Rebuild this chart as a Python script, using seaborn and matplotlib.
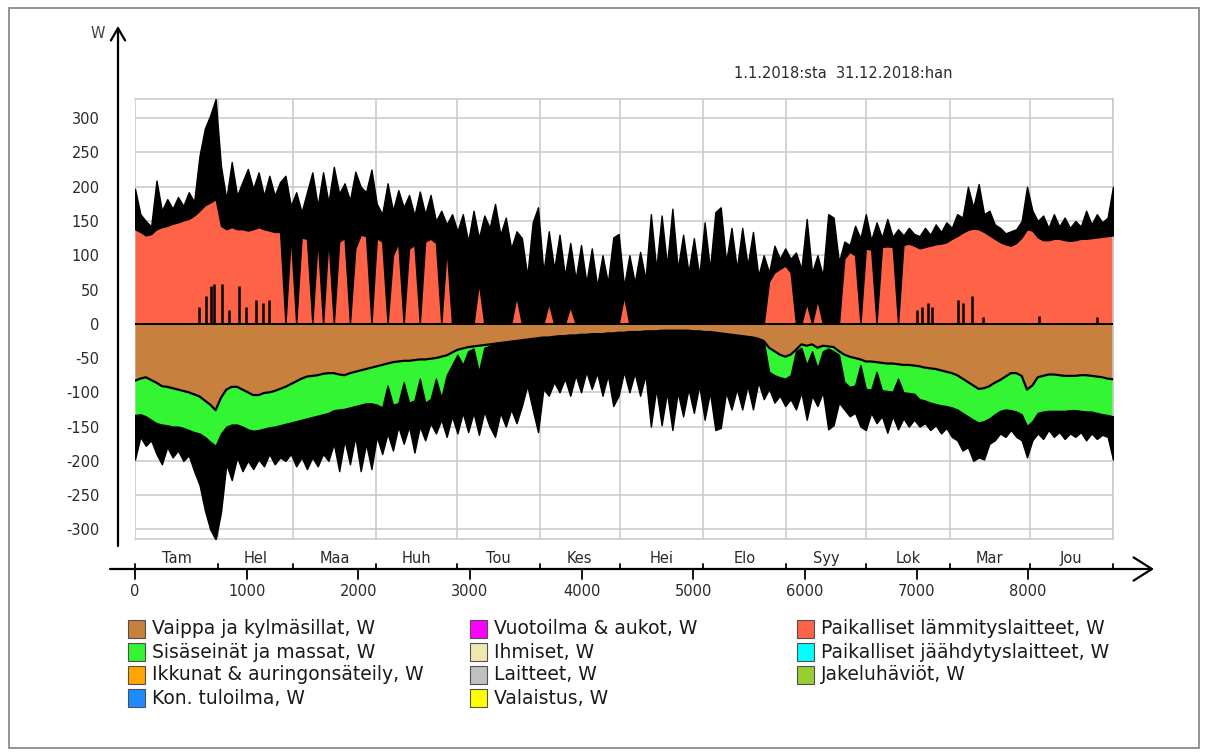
import numpy as np
import matplotlib
matplotlib.use("Agg")
import matplotlib.pyplot as plt
import matplotlib.transforms as mtransforms
from matplotlib.patches import Rectangle
import seaborn as sns

# ---------------------------------------------------------------
# Heat balance of the zone, 1.1.2018 - 31.12.2018, one value per
# two days (W). Positive side: local heating units (stacked area)
# and the envelope of the hourly peaks. Negative side: envelope
# losses, internal walls & masses and the hourly minimum envelope.
# ---------------------------------------------------------------
heating = [
    138, 134, 129, 131, 138, 141, 143, 146, 148, 151,
    153, 158, 165, 173, 177, 182, 143, 138, 141, 138,
    138, 136, 138, 141, 138, 136, 134, 134, 0, 129,
    0, 126, 124, 0, 124, 0, 124, 0, 120, 125,
    0, 110, 130, 128, 0, 125, 120, 0, 100, 118,
    0, 110, 115, 0, 120, 124, 118, 0, 110, 0,
    0, 0, 0, 0, 60, 0, 0, 0, 0, 0,
    0, 40, 0, 0, 0, 0, 0, 30, 0, 0,
    0, 25, 0, 0, 0, 0, 0, 0, 0, 0,
    0, 40, 0, 0, 0, 0, 0, 0, 0, 0,
    0, 0, 0, 0, 0, 0, 0, 0, 0, 0,
    0, 0, 0, 0, 0, 0, 0, 0, 62, 75,
    80, 85, 75, 0, 0, 30, 0, 35, 0, 0,
    0, 0, 95, 105, 100, 0, 110, 108, 0, 112,
    113, 112, 0, 115, 117, 114, 110, 112, 114, 116,
    117, 119, 124, 128, 133, 137, 139, 138, 134, 129,
    124, 119, 116, 114, 118, 126, 138, 136, 126, 122,
    122, 124, 124, 122, 121, 122, 124, 124, 125, 126,
    127, 128, 129,
]

hourly_max = [
    197, 160, 150, 142, 209, 165, 182, 168, 185, 172,
    192, 178, 245, 285, 304, 328, 230, 182, 236, 187,
    207, 226, 197, 221, 187, 216, 187, 207, 216, 172,
    192, 163, 192, 221, 172, 221, 177, 229, 190, 205,
    180, 222, 200, 192, 225, 175, 160, 205, 165, 195,
    170, 188, 158, 193, 160, 188, 150, 165, 145, 160,
    135, 160, 120, 165, 125, 158, 140, 175, 130, 155,
    110, 135, 125, 70, 148, 170, 75, 135, 80, 130,
    70, 118, 65, 115, 60, 110, 55, 100, 60, 126,
    131, 55, 100, 60, 105, 65, 160, 80, 158, 85,
    168, 80, 130, 75, 125, 70, 148, 80, 163, 170,
    90, 140, 80, 140, 85, 134, 70, 100, 75, 114,
    95, 110, 95, 104, 80, 153, 75, 100, 70, 160,
    155, 90, 120, 115, 143, 125, 160, 122, 148, 126,
    153, 127, 138, 129, 140, 131, 128, 140, 130, 145,
    134, 148, 140, 160, 155, 200, 170, 204, 160, 165,
    145, 140, 132, 135, 138, 150, 200, 165, 150, 158,
    140, 160, 142, 155, 140, 150, 142, 165, 145, 160,
    148, 155, 200,
]

envelope = [
    -83, -80, -78, -82, -86, -91, -92, -94, -96, -98,
    -100, -103, -106, -112, -118, -126, -108, -96, -92, -92,
    -96, -100, -104, -104, -101, -100, -98, -95, -92, -88,
    -84, -80, -77, -76, -75, -73, -72, -72, -74, -75,
    -72, -70, -68, -66, -64, -62, -60, -58, -56, -55,
    -54, -54, -53, -52, -52, -51, -50, -48, -46, -42,
    -38, -36, -34, -33, -32, -31, -30, -29, -28, -27,
    -26, -25, -24, -23, -22, -21, -20, -20, -19, -18,
    -18, -17, -17, -16, -16, -15, -15, -15, -14, -14,
    -13, -13, -12, -12, -12, -11, -11, -11, -10, -10,
    -10, -10, -10, -10, -11, -11, -12, -12, -13, -14,
    -15, -16, -17, -18, -19, -20, -22, -25, -35, -40,
    -45, -48, -45, -38, -30, -32, -30, -35, -32, -33,
    -34, -40, -45, -48, -50, -52, -55, -55, -56, -57,
    -58, -58, -59, -60, -60, -61, -62, -64, -65, -66,
    -68, -70, -72, -75, -80, -85, -90, -95, -94, -91,
    -86, -82, -77, -72, -72, -76, -96, -90, -78, -76,
    -74, -74, -75, -76, -76, -76, -75, -75, -76, -77,
    -78, -80, -81,
]

walls = [
    -50, -52, -57, -58, -59, -56, -56, -56, -54, -54,
    -55, -55, -54, -53, -54, -52, -52, -54, -55, -55,
    -54, -54, -52, -51, -52, -51, -52, -53, -54, -56,
    -58, -60, -61, -60, -59, -59, -58, -54, -51, -49,
    -50, -50, -50, -50, -52, -56, -62, -32, -62, -61,
    -31, -61, -59, -28, -63, -59, -30, -60, -29, -18,
    -7, -24, -6, -3, -38, -4, -2, 0, 0, 0,
    0, 0, 0, 0, 0, 0, 0, 0, 0, 0,
    0, 0, 0, 0, 0, 0, 0, 0, 0, 0,
    0, 0, 0, 0, 0, 0, 0, 0, 0, 0,
    0, 0, 0, 0, 0, 0, 0, 0, 0, 0,
    0, 0, 0, 0, 0, 0, 0, 0, -35, -35,
    -33, -32, -30, -2, -5, -28, -10, -30, -8, -3,
    -6, -5, -40, -44, -40, -8, -40, -41, -14, -40,
    -40, -41, -21, -40, -41, -41, -48, -48, -50, -51,
    -51, -50, -50, -50, -50, -50, -50, -49, -48, -47,
    -46, -45, -48, -54, -56, -56, -53, -52, -52, -52,
    -53, -53, -52, -51, -50, -50, -52, -53, -52, -53,
    -54, -53, -54,
]

hourly_min = [
    -198, -165, -178, -170, -190, -205, -180, -195, -185, -200,
    -192, -215, -235, -272, -300, -315, -275, -205, -228, -195,
    -215, -200, -212, -198, -208, -190, -205, -195, -200, -190,
    -208, -195, -212, -195, -208, -190, -200, -175, -215, -170,
    -205, -165, -215, -175, -212, -165, -190, -160, -185, -150,
    -175, -150, -188, -150, -170, -145, -160, -140, -165, -135,
    -160, -130, -158, -130, -162, -128, -150, -165, -130, -150,
    -125, -145, -120, -90, -125, -158, -95, -105, -85, -100,
    -80, -105, -75, -100, -70, -95, -72, -105, -75, -120,
    -105, -70, -100, -72, -105, -75, -150, -95, -148, -100,
    -155, -100, -135, -95, -130, -90, -140, -100, -155, -152,
    -100, -125, -95, -125, -90, -125, -85, -110, -95, -115,
    -105, -120, -110, -125, -100, -140, -105, -120, -100, -154,
    -148, -115, -125, -135, -130, -150, -155, -130, -145, -135,
    -159, -135, -154, -138, -150, -140, -150, -145, -155, -148,
    -160, -152, -165, -170, -185, -180, -200, -195, -198, -175,
    -170, -160, -165, -155, -165, -170, -195, -170, -160, -168,
    -155, -165, -158, -168, -160, -165, -158, -170, -160, -168,
    -162, -165, -198,
]

# Short positive peaks (window / solar gains) under the heating area
spike_hours = [574, 636, 679, 708, 783, 843, 933, 993, 1083, 1143, 1203,
               7002, 7047, 7107, 7137, 7376, 7420, 7495, 7600, 8093, 8616]
spike_values = [25, 40, 55, 58, 58, 20, 55, 25, 35, 30, 35,
                20, 25, 30, 25, 35, 30, 40, 10, 12, 10]

month_names = ["Tam", "Hel", "Maa", "Huh", "Tou", "Kes",
               "Hei", "Elo", "Syy", "Lok", "Mar", "Jou"]
month_starts = [0, 744, 1416, 2160, 2880, 3624, 4344,
                5088, 5832, 6552, 7296, 8016, 8760]
hour_ticks = [0, 1000, 2000, 3000, 4000, 5000, 6000, 7000, 8000]
y_ticks = list(range(-300, 301, 50))

legend_columns = [
    [("Vaippa ja kylmäsillat, W", "#C8803E"),
     ("Sisäseinät ja massat, W", "#33F533"),
     ("Ikkunat & auringonsäteily, W", "#FFA500"),
     ("Kon. tuloilma, W", "#1E8CFF")],
    [("Vuotoilma & aukot, W", "#FF00FF"),
     ("Ihmiset, W", "#EEE8B0"),
     ("Laitteet, W", "#C0C0C0"),
     ("Valaistus, W", "#FFFF00")],
    [("Paikalliset lämmityslaitteet, W", "#FF6347"),
     ("Paikalliset jäähdytyslaitteet, W", "#00FFFF"),
     ("Jakeluhäviöt, W", "#9ACD32")],
]

title_text = "1.1.2018:sta  31.12.2018:han"

# ---------------------------------------------------------------
sns.set_style("white")
plt.rcParams["font.family"] = ["DejaVu Sans"]
plt.rcParams["axes.unicode_minus"] = False

W, H = 1206, 754
fig = plt.figure(figsize=(W / 100, H / 100), dpi=100)
fig.patch.set_facecolor("white")

ax_l, ax_r, ax_t, ax_b = 135, 1113, 99, 539
ax = fig.add_axes([ax_l / W, 1 - ax_b / H, (ax_r - ax_l) / W, (ax_b - ax_t) / H])
ax_w, ax_h = ax_r - ax_l, ax_b - ax_t
ax.set_xlim(0, 8760)
ax.set_ylim(-314, 328)

hours = np.linspace(0, 8760, len(heating))
heat = np.array(heating, float)
top = np.maximum(np.array(hourly_max, float), heat)
env = np.array(envelope, float)
wall_bottom = env + np.array(walls, float)
bottom = np.minimum(np.array(hourly_min, float), wall_bottom)

grid_c = "#c8c8c8"
for yv in y_ticks:
    ax.axhline(yv, color=grid_c, lw=1.1, zorder=0)
for h in month_starts:
    ax.axvline(h, color=grid_c, lw=1.1, zorder=0)

RED, BROWN, GREEN = "#FF6347", "#C8803E", "#33F533"

# positive side: heating area, hourly peak band above it
ax.fill_between(hours, 0, heat, color=RED, lw=0, zorder=2)
ax.fill_between(hours, heat, top, facecolor="black", edgecolor="black",
                lw=1.0, zorder=3)
ax.vlines(spike_hours, 0, spike_values, color="black", lw=1.8, zorder=4)

# negative side: envelope, internal walls, hourly minimum band
ax.fill_between(hours, 0, env, color=BROWN, lw=0, zorder=2)
ax.fill_between(hours, env, wall_bottom, color=GREEN, lw=0, zorder=2)
ax.fill_between(hours, wall_bottom, bottom, facecolor="black",
                edgecolor="black", lw=1.0, zorder=3)

sns.lineplot(x=hours, y=env, color="black", lw=1.6, ax=ax, zorder=4)
sns.lineplot(x=[0, 8760], y=[0, 0], color="black", lw=1.4, ax=ax, zorder=5)

# frame and ticks
for s in ["top", "right", "bottom"]:
    ax.spines[s].set_color(grid_c)
    ax.spines[s].set_linewidth(1.1)
ax.spines["left"].set_position(("outward", 17))
ax.spines["left"].set_visible(False)
ax.set_xticks([])
ax.set_yticks(y_ticks)
ax.set_yticklabels([str(v) for v in y_ticks])
ax.tick_params(axis="y", direction="inout", length=15, width=1.4,
               color="black", labelcolor="#2a2a2a", labelsize=10.5, pad=1)
ax.set_xlabel("")
ax.set_ylabel("")

# vertical axis with arrow
yax_x = -17 / ax_w
ax.annotate("", xy=(yax_x, (ax_b - 26) / ax_h), xytext=(yax_x, (ax_b - 546) / ax_h),
            xycoords="axes fraction",
            arrowprops=dict(arrowstyle="->,head_length=0.55,head_width=0.32",
                            lw=1.6, color="black", mutation_scale=16,
                            shrinkA=0, shrinkB=0))
ax.text((98 - ax_l) / ax_w, (ax_b - 33) / ax_h, "W", transform=ax.transAxes,
        ha="center", va="center", fontsize=10.5, color="#444444")

# horizontal axis with month band and hour ticks
xline_y = (ax_b - 569) / ax_h
ax.annotate("", xy=((1154 - ax_l) / ax_w, xline_y),
            xytext=((110 - ax_l) / ax_w, xline_y),
            xycoords="axes fraction",
            arrowprops=dict(arrowstyle="->,head_length=0.6,head_width=0.38",
                            lw=1.6, color="black", mutation_scale=22,
                            shrinkA=0, shrinkB=0))
trans = mtransforms.blended_transform_factory(ax.transData, ax.transAxes)
for h in month_starts:
    ax.plot([h, h], [xline_y, xline_y + 5 / ax_h], color="black", lw=1.3,
            transform=trans, clip_on=False)
for name, a, b in zip(month_names, month_starts[:-1], month_starts[1:]):
    ax.text((a + b) / 2, (ax_b - 563) / ax_h, name, transform=trans,
            ha="center", va="baseline", fontsize=10.5, color="#2a2a2a")
for h in hour_ticks:
    ax.plot([h, h], [xline_y - 1 / ax_h, xline_y - 10 / ax_h], color="black",
            lw=1.3, transform=trans, clip_on=False)
    ax.text(h, (ax_b - 592) / ax_h, str(h), transform=trans,
            ha="center", va="center", fontsize=10.5, color="#2a2a2a")

# period caption
fig.text(843 / W, 1 - 73 / H, title_text, ha="center", va="center",
         fontsize=10.5, color="#2a2a2a")

# legend
col_x = [128, 470, 797]
row_y = [629, 652, 675, 698]
clip = Rectangle((0, 0), 1110 / W, 1, transform=fig.transFigure,
                 fill=False, visible=False)
fig.add_artist(clip)
for cx, entries in zip(col_x, legend_columns):
    for ry, (label, color) in zip(row_y, entries):
        fig.add_artist(Rectangle((cx / W, 1 - (ry + 9) / H), 17 / W, 18 / H,
                                 transform=fig.transFigure, facecolor=color,
                                 edgecolor="#505050", lw=0.8))
        t = fig.text((cx + 24) / W, 1 - ry / H, label, ha="left", va="center",
                     fontsize=13.5, color="#1a1a1a")
        t.set_clip_path(clip)

# outer frame
fig.add_artist(Rectangle((9 / W, 1 - 748 / H), (1199 - 9) / W, (748 - 8) / H,
                         transform=fig.transFigure, fill=False,
                         edgecolor="#8a8a8a", lw=1.3))

fig.savefig("out.png", dpi=100)
